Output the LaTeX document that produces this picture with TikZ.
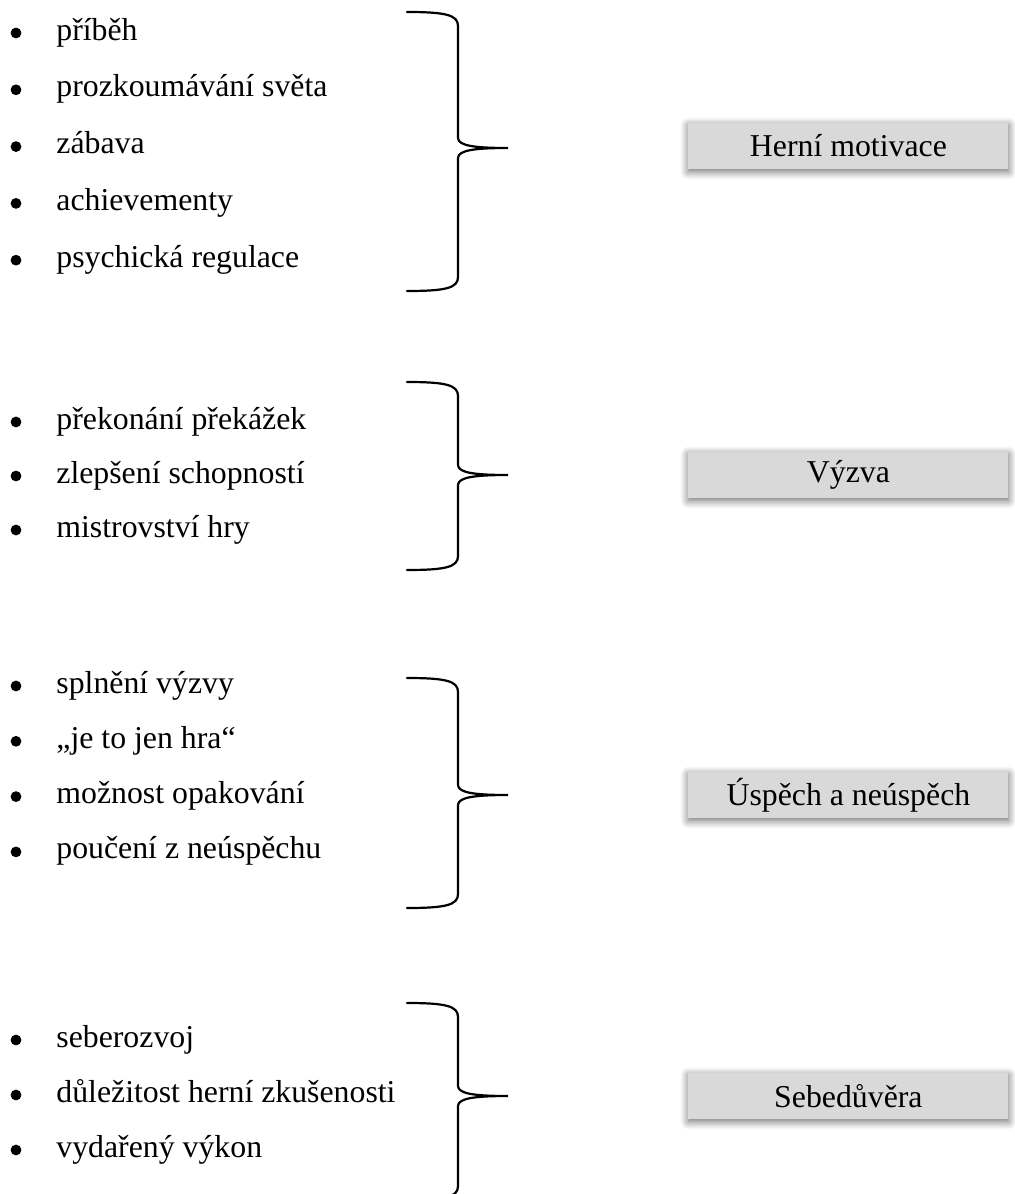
\documentclass[tikz,border=0pt]{standalone}
\usepackage{fontspec}
\setmainfont{Liberation Serif}
\usepackage{tikz}
\usetikzlibrary{positioning, calc, shadows.blur}
\definecolor{BoxGray}{HTML}{D9D9D9}

% one bracket from the top end over the tip to the bottom end
\newcommand{\groupbrace}[4]{%
    \coordinate (#1top) at (407,#2);
    \coordinate (#1tip) at (508,#3);
    \coordinate (#1bot) at (407,#4);
    \draw[brace] (#1top) .. controls (446,#2) and (458,{#2+3}) .. (458,{#2+14})
        -- (458,{#3-10}) .. controls (458,{#3-2}) and (476,#3) .. (#1tip)
        .. controls (476,#3) and (458,{#3+2}) .. (458,{#3+10})
        -- (458,{#4-14}) .. controls (458,{#4-3}) and (446,#4) .. (#1bot);
}

\begin{document}
\begin{tikzpicture}[
    x=0.5pt, y=-0.5pt,
    txt/.style={anchor=base west, inner sep=0pt, font=\fontsize{15.9}{19}\selectfont},
    dot/.style={circle, fill=black, inner sep=0pt, minimum size=5.4pt},
    brace/.style={line width=1.1pt, line cap=round},
    catbox/.style={rectangle, fill=BoxGray, minimum width=160pt, minimum height=23pt,
                   inner sep=0pt, font=\fontsize{15.9}{19}\selectfont,
                   blur shadow={shadow xshift=0pt, shadow yshift=-1.2pt,
                                shadow blur radius=4pt, shadow blur steps=8,
                                shadow opacity=60}}
]
    \useasboundingbox (0,0) rectangle (1014,1194);

    % Herni motivace
    \foreach \t [count=\i] in {příběh, prozkoumávání světa, zábava, achievementy, psychická regulace} {
        \node[dot] (mb\i) at (16,{33+(\i-1)*56.8}) {};
        \node[txt] (m\i) at (56,{40+(\i-1)*56.8}) {\t};
    }
    \groupbrace{m}{12}{148}{291}
    \node[catbox, right=90pt of mtip, yshift=1pt] (herni) {Herní motivace};

    % Vyzva
    \foreach \t [count=\i] in {překonání překážek, zlepšení schopností, mistrovství hry} {
        \node[dot] (vb\i) at (16,{422+(\i-1)*54}) {};
        \node[txt] (v\i) at (56,{429+(\i-1)*54}) {\t};
    }
    \groupbrace{v}{382}{475}{570}
    \node[catbox, right=90pt of vtip] (vyzva) {Výzva};

    % Uspech a neuspech
    \foreach \t [count=\i] in {splnění výzvy, „je to jen hra“, možnost opakování, poučení z neúspěchu} {
        \node[dot] (ub\i) at (16,{686+(\i-1)*55.3}) {};
        \node[txt] (u\i) at (56,{693+(\i-1)*55.3}) {\t};
    }
    \groupbrace{u}{678}{795}{908}
    \node[catbox, right=90pt of utip] (uspech) {Úspěch a neúspěch};

    % Sebeduvera
    \foreach \t [count=\i] in {seberozvoj, důležitost herní zkušenosti, vydařený výkon} {
        \node[dot] (sb\i) at (16,{1040+(\i-1)*55}) {};
        \node[txt] (s\i) at (56,{1047+(\i-1)*55}) {\t};
    }
    \groupbrace{s}{1003}{1096}{1200}
    \node[catbox, right=90pt of stip] (sebe) {Sebedůvěra};
\end{tikzpicture}
\end{document}
